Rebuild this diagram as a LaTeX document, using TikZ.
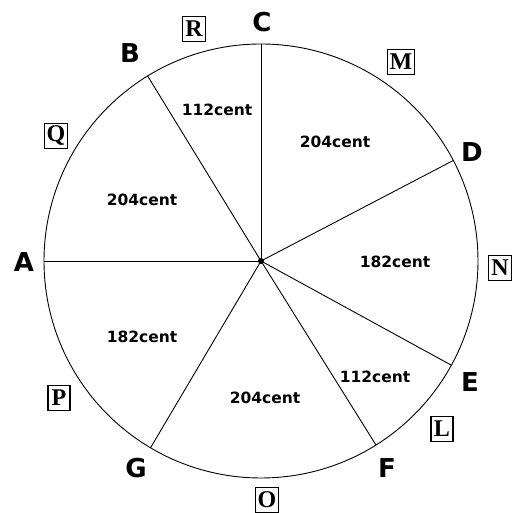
\documentclass[tikz,border=0pt]{standalone}
\usepackage{fontspec}
\setmainfont{Liberation Serif}
\newfontfamily\labfont{DejaVu Sans}
\usetikzlibrary{calc}
\begin{document}
\begin{tikzpicture}[x=1pt,y=1pt,
  pt/.style={font=\labfont\bfseries\fontsize{26}{26}\selectfont, inner sep=0pt},
  cent/.style={font=\labfont\bfseries\fontsize{15.5}{16}\selectfont, inner sep=0pt},
  boxed/.style={draw, line width=1.3pt, font=\bfseries\fontsize{24}{24}\selectfont, inner xsep=2.5pt, inner ysep=0pt, minimum width=22pt, minimum height=25pt},
  spoke/.style={line width=0.9pt}]
\useasboundingbox (0,0) rectangle (515,513);
\coordinate (O) at (261,252);
\node[draw, line width=0.9pt, circle, minimum size=434pt, inner sep=0pt] (circ) at (O) {};
% points on the circle
\coordinate (pA) at ($(O)+(180:217)$);
\coordinate (pB) at ($(O)+(121.5:217)$);
\coordinate (pC) at ($(O)+(90:217)$);
\coordinate (pD) at ($(O)+(27.6:217)$);
\coordinate (pE) at ($(O)+(-28.7:217)$);
\coordinate (pF) at ($(O)+(-58:217)$);
\coordinate (pG) at ($(O)+(-120.6:217)$);
\foreach \p in {pA,pB,pC,pD,pE,pF,pG} \draw[spoke] (O) -- (\p);
\fill (O) circle (3);
% point labels
\node[pt] (lC) at (262,491) {C};
\node[pt] (lB) at (130,460) {B};
\node[pt] (lD) at (472,361) {D};
\node[pt] (lE) at (470,131) {E};
\node[pt] (lF) at (387,45) {F};
\node[pt] (lG) at (136,45) {G};
\node[pt] (lA) at (24,251) {A};
% boxed letters
\node[boxed] (bR) at (194,484) {R};
\node[boxed] (bM) at (401,451) {M};
\node[boxed] (bN) at (500,245) {N};
\node[boxed] (bL) at (442,84) {L};
\node[boxed] (bO) at (267,13) {O};
\node[boxed] (bP) at (59,115) {P};
\node[boxed] (bQ) at (56,377) {Q};
% interval labels
\node[cent] (cBC) at (217,403) {112cent};
\node[cent] (cCD) at (335,371) {204cent};
\node[cent] (cAB) at (142,313) {204cent};
\node[cent] (cDE) at (395,251) {182cent};
\node[cent] (cGA) at (142,176) {182cent};
\node[cent] (cFG) at (265,115) {204cent};
\node[cent] (cEF) at (375,136) {112cent};
\end{tikzpicture}
\end{document}
